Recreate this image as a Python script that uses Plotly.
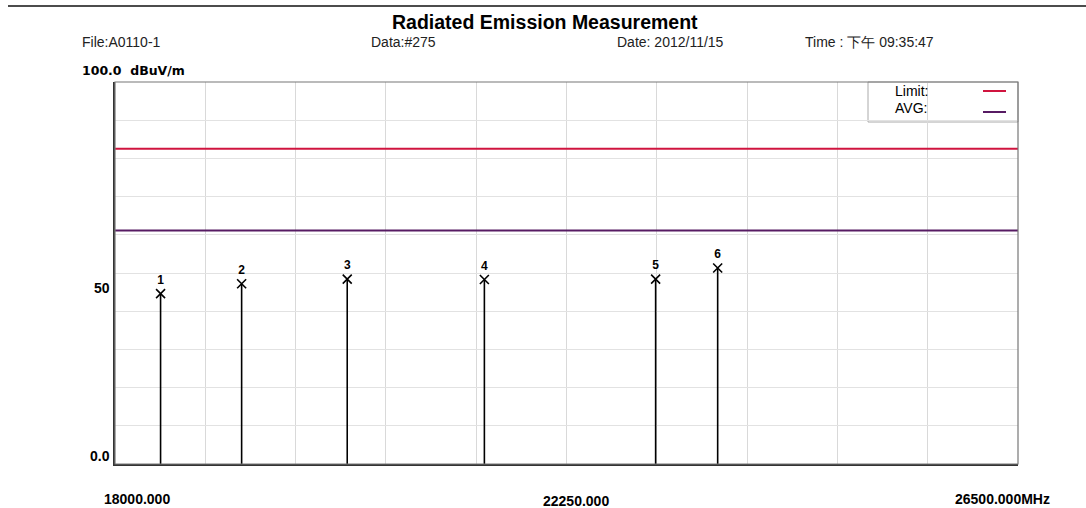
import plotly.graph_objects as go

# ---------------- data ----------------
marker_ids = ["1", "2", "3", "4", "5", "6"]
marker_freq_mhz = [18429, 19192, 20186, 21477, 23089, 23673]
marker_level_dbuv = [44.6, 47.2, 48.4, 48.3, 48.4, 51.3]

limit_level = 82.5
avg_level = 61.1

x_min, x_max = 18000, 26500
y_min, y_max = 0, 100

x_tick_vals = [18000, 22250, 26500]
x_tick_text = ["18000.000", "22250.000", "26500.000MHz"]
y_tick_vals = [0, 50]
y_tick_text = ["0.0", "50"]

title = "Radiated Emission Measurement"
header_items = ["File:A0110-1", "Data:#275", "Date: 2012/11/15", "Time : 下午 09:35:47"]
unit_label = "100.0  dBuV/m"
legend_names = ["Limit:", "AVG:"]

LIMIT_COLOR = "#d0143f"
AVG_COLOR = "#571b63"
FONT = "Liberation Sans, Arial, sans-serif"
WIDE = "DejaVu Sans, Verdana, sans-serif"

fig = go.Figure()

fig.add_trace(go.Scatter(x=[x_min, x_max], y=[limit_level, limit_level], mode="lines",
                         line=dict(color=LIMIT_COLOR, width=2), hoverinfo="skip", showlegend=False))
fig.add_trace(go.Scatter(x=[x_min, x_max], y=[avg_level, avg_level], mode="lines",
                         line=dict(color=AVG_COLOR, width=2), hoverinfo="skip", showlegend=False))

sx, sy = [], []
for f, v in zip(marker_freq_mhz, marker_level_dbuv):
    sx += [f, f, None]
    sy += [y_min, v, None]
fig.add_trace(go.Scatter(x=sx, y=sy, mode="lines", line=dict(color="black", width=1.6),
                         hoverinfo="skip", showlegend=False))

fig.add_trace(go.Scatter(x=marker_freq_mhz, y=marker_level_dbuv, mode="markers+text",
                         marker=dict(symbol="x-thin-open", size=9, color="black",
                                     line=dict(color="black", width=1.6)),
                         text=["<b>" + m + "</b>" for m in marker_ids], textposition="top center",
                         textfont=dict(family=FONT, size=12, color="black"),
                         showlegend=False))

L, R, T, B = 115, 1018, 82, 464
W, H = 1086, 508
def px(x):
    return (x - L) / (R - L)
def py(y):
    return (B - y) / (B - T)

ann = []
ann.append(dict(text="<b>" + title + "</b>", x=px(545), y=py(22), xref="paper", yref="paper",
                xanchor="center", yanchor="middle", showarrow=False,
                font=dict(family=FONT, size=19.5, color="black")))
header_x = [80, 369, 615, 803]
for hx, t in zip(header_x, header_items):
    ann.append(dict(text=t, x=px(hx), y=py(42), xref="paper", yref="paper", showarrow=False,
                    xanchor="left", yanchor="middle", font=dict(family=FONT, size=14, color="#222")))
ann.append(dict(text="<b>" + unit_label + "</b>", x=px(80), y=py(70), xref="paper", yref="paper",
                showarrow=False, xanchor="left", yanchor="middle",
                font=dict(family=WIDE, size=12.5, color="black")))

for v, t in zip(y_tick_vals, y_tick_text):
    ann.append(dict(text="<b>" + t + "</b>", x=0, y=v, xref="paper", yref="y", xanchor="right",
                    yanchor="middle", yshift=(8 if v == 0 else -15), xshift=-3, showarrow=False,
                    font=dict(family=FONT, size=14, color="black")))
x_anchor = ["left", "center", "right"]
x_shift = [-13, 9, 34]
for v, t, xa, xs in zip(x_tick_vals, x_tick_text, x_anchor, x_shift):
    ann.append(dict(text="<b>" + t + "</b>", x=v, y=0, xref="x", yref="paper", xanchor=xa,
                    yanchor="top", xshift=xs, yshift=(-27 if xa == "center" else -25), showarrow=False,
                    font=dict(family=FONT, size=14, color="black")))

leg_y = [91, 108]
for yy, t in zip(leg_y, legend_names):
    ann.append(dict(text=t, x=px(893), y=py(yy), xref="paper", yref="paper", xanchor="left",
                    yanchor="middle", showarrow=False, font=dict(family=FONT, size=14, color="black")))

shapes = []
shapes.append(dict(type="line", xref="paper", yref="paper", x0=px(8), x1=px(1086), y0=py(6), y1=py(6),
                   line=dict(color="#111", width=1.5)))
shapes.append(dict(type="rect", xref="paper", yref="paper", x0=px(868), x1=1, y0=py(122), y1=1,
                   line=dict(color="#aaa", width=1), fillcolor="rgba(255,255,255,0.9)", layer="below"))
shapes.append(dict(type="line", xref="paper", yref="paper", x0=px(983), x1=px(1006), y0=py(91), y1=py(91),
                   line=dict(color=LIMIT_COLOR, width=2)))
shapes.append(dict(type="line", xref="paper", yref="paper", x0=px(983), x1=px(1006), y0=py(112), y1=py(112),
                   line=dict(color=AVG_COLOR, width=2)))
shapes.append(dict(type="rect", xref="paper", yref="paper", x0=0, x1=1, y0=0, y1=1,
                   line=dict(color="#777", width=1.2)))

fig.update_layout(
    width=W, height=H,
    margin=dict(l=L, r=W - R, t=T, b=H - B),
    paper_bgcolor="white", plot_bgcolor="white",
    annotations=ann, shapes=shapes, showlegend=False,
    xaxis=dict(range=[x_min, x_max], dtick=850, tick0=x_min, showgrid=True, gridcolor="#d9d9d9",
               gridwidth=1, showticklabels=False, zeroline=False, showline=True, linecolor="#333",
               linewidth=1.5, ticks=""),
    yaxis=dict(range=[y_min, y_max], dtick=10, showgrid=True, gridcolor="#e2e2e2", gridwidth=1,
               showticklabels=False, zeroline=False, showline=True, linecolor="#333", linewidth=1.5,
               ticks=""),
)

fig.write_html("out.html", config={"displayModeBar": False},
               post_script="document.body.style.margin='0';document.body.style.overflow='hidden';")
